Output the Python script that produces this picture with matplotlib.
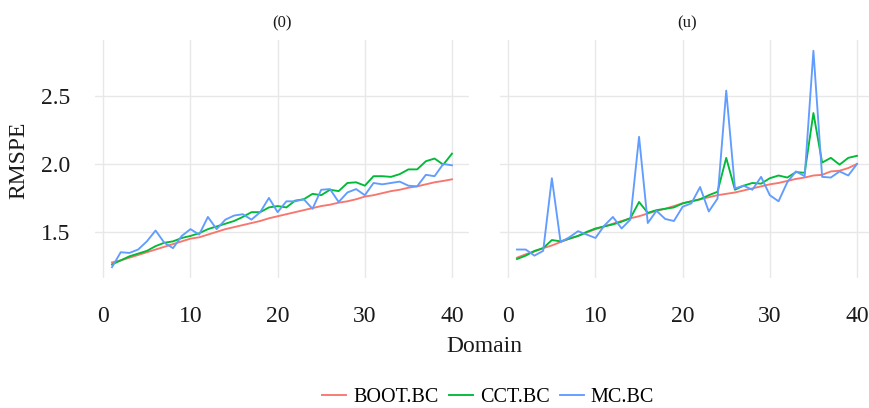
import numpy as np
import matplotlib
matplotlib.use("Agg")
import matplotlib.pyplot as plt

plt.rcParams["font.family"] = ["Liberation Serif", "DejaVu Serif"]

domain = list(range(1, 41))

# panel (0)
boot_0 = [1.275, 1.29, 1.31, 1.33, 1.35, 1.37, 1.39, 1.41, 1.43, 1.45,
          1.46, 1.48, 1.50, 1.52, 1.535, 1.55, 1.565, 1.58, 1.60, 1.615,
          1.63, 1.645, 1.66, 1.675, 1.69, 1.70, 1.715, 1.725, 1.74, 1.76,
          1.77, 1.785, 1.80, 1.81, 1.825, 1.835, 1.85, 1.865, 1.875, 1.887]
cct_0 = [1.26, 1.29, 1.32, 1.34, 1.36, 1.395, 1.42, 1.43, 1.455, 1.47,
         1.49, 1.52, 1.54, 1.56, 1.58, 1.61, 1.645, 1.645, 1.68, 1.69,
         1.68, 1.73, 1.74, 1.78, 1.77, 1.81, 1.80, 1.86, 1.865, 1.84,
         1.91, 1.91, 1.905, 1.925, 1.96, 1.96, 2.02, 2.04, 1.995, 2.076]
mc_0 = [1.24, 1.35, 1.345, 1.37, 1.43, 1.51, 1.42, 1.38, 1.47, 1.52,
        1.48, 1.61, 1.52, 1.59, 1.62, 1.63, 1.59, 1.645, 1.75, 1.645,
        1.725, 1.725, 1.74, 1.67, 1.81, 1.815, 1.72, 1.79, 1.815, 1.77,
        1.86, 1.85, 1.86, 1.87, 1.84, 1.835, 1.92, 1.91, 2.0, 1.99]

# panel (u)
boot_u = [1.31, 1.335, 1.355, 1.38, 1.40, 1.425, 1.45, 1.47, 1.495, 1.52,
          1.54, 1.56, 1.58, 1.60, 1.615, 1.635, 1.655, 1.67, 1.69, 1.71,
          1.725, 1.74, 1.755, 1.77, 1.78, 1.79, 1.805, 1.82, 1.835, 1.85,
          1.86, 1.875, 1.89, 1.90, 1.915, 1.92, 1.945, 1.95, 1.97, 2.0]
cct_u = [1.30, 1.325, 1.36, 1.38, 1.44, 1.43, 1.45, 1.47, 1.50, 1.525,
         1.54, 1.555, 1.575, 1.60, 1.72, 1.64, 1.66, 1.67, 1.68, 1.71,
         1.725, 1.74, 1.77, 1.795, 2.045, 1.81, 1.84, 1.86, 1.855, 1.895,
         1.915, 1.90, 1.94, 1.935, 2.375, 2.01, 2.045, 1.995, 2.045, 2.06]
mc_u = [1.37, 1.37, 1.325, 1.36, 1.895, 1.425, 1.46, 1.505, 1.48, 1.455,
        1.545, 1.61, 1.525, 1.59, 2.2, 1.565, 1.655, 1.595, 1.58, 1.685,
        1.71, 1.83, 1.65, 1.745, 2.54, 1.82, 1.84, 1.81, 1.905, 1.77,
        1.725, 1.865, 1.945, 1.91, 2.833, 1.905, 1.90, 1.945, 1.915, 2.0]

methods = ["BOOT.BC", "CCT.BC", "MC.BC"]
colors = ["#F8766D", "#00BA38", "#619CFF"]
panels = [("(0)", [boot_0, cct_0, mc_0]), ("(u)", [boot_u, cct_u, mc_u])]

W, H = 870, 408
fig = plt.figure(figsize=(W / 100, H / 100), dpi=100, facecolor="white")

# shared limits with 5% padding, like ggplot
allv = np.concatenate([np.array(s) for _, ss in panels for s in ss])
ypad = 0.05 * (allv.max() - allv.min())
ylim = (allv.min() - ypad, allv.max() + ypad)
xpad = 0.05 * (max(domain) - min(domain))
xlim = (min(domain) - xpad, max(domain) + xpad)

def px_axes(x0, x1, y0, y1):
    return fig.add_axes([x0 / W, 1 - y1 / H, (x1 - x0) / W, (y1 - y0) / H])

lefts = [95, 500]
for k, (title, series) in enumerate(panels):
    ax = px_axes(lefts[k], lefts[k] + 374, 40, 278)
    for s, c, m in zip(series, colors, methods):
        ax.plot(domain, s, color=c, lw=1.35, label=m, solid_joinstyle="round")
    ax.set_xlim(*xlim)
    ax.set_ylim(*ylim)
    ax.set_xticks([0, 10, 20, 30, 40])
    ax.set_yticks([1.5, 2.0, 2.5])
    ax.grid(True, color="#E8E8E8", lw=1.0)
    ax.set_axisbelow(True)
    for sp in ax.spines.values():
        sp.set_visible(False)
    ax.tick_params(length=0, labelsize=17, colors="#1a1a1a", pad=18)
    ax.tick_params(axis="x", pad=20)
    if k == 0:
        ax.set_yticklabels(["1.5", "2.0", "2.5"])
    else:
        ax.set_yticklabels([])
    ax.set_title(title, fontsize=12, color="#1a1a1a", pad=9)

fig.text(484 / W, 1 - 346 / H, "Domain", ha="center", va="center",
         fontsize=17, color="#1a1a1a")
fig.text(19 / W, 1 - 160 / H, "RMSPE", ha="center", va="center",
         rotation=90, fontsize=17, color="#1a1a1a")

handles, labels = fig.axes[0].get_legend_handles_labels()
fig.legend(handles, labels, loc="center", bbox_to_anchor=(488 / W, 1 - 397 / H),
           ncol=3, frameon=False, fontsize=14.5, handlelength=1.2,
           handletextpad=0.35, columnspacing=0.5)

fig.savefig("out.png", dpi=100, facecolor="white")
